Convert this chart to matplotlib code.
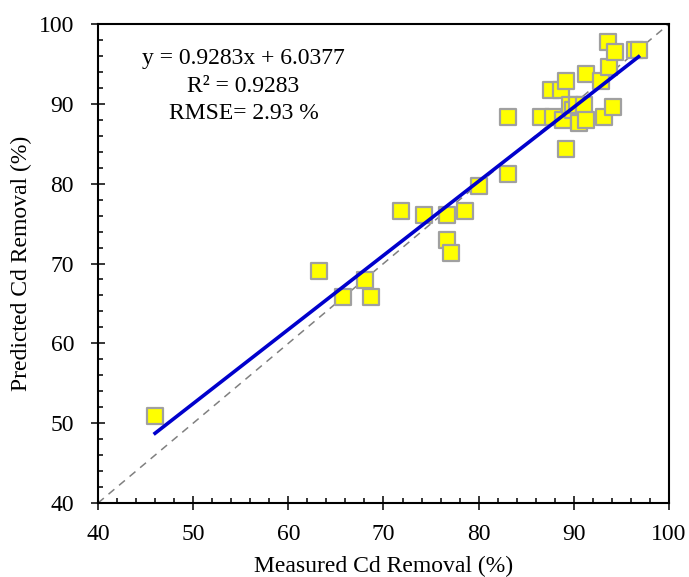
import numpy as np
import matplotlib.pyplot as plt
from matplotlib.ticker import MultipleLocator

plt.rcParams['font.family'] = ['Liberation Serif', 'DejaVu Serif']

measured = [46.0, 63.2, 65.7, 68.1, 68.7, 71.8, 74.3, 76.7, 76.7, 77.1, 78.6, 80.0,
            83.1, 83.1, 86.6, 87.6, 87.8, 88.7, 88.9, 89.2, 89.2, 89.6, 89.9, 90.3,
            90.5, 91.1, 91.3, 91.3, 92.9, 93.2, 93.6, 93.7, 94.1, 94.3, 96.4, 96.8]
predicted = [50.9, 69.0, 65.8, 67.9, 65.8, 76.6, 76.1, 76.1, 72.9, 71.3, 76.6, 79.7,
             81.2, 88.3, 88.3, 91.7, 88.3, 91.7, 88.0, 92.9, 84.4, 89.9, 89.2, 89.9,
             87.6, 89.9, 88.0, 93.7, 92.9, 88.3, 97.8, 94.6, 89.6, 96.5, 96.8, 96.8]

slope, intercept = 0.9283, 6.0377
r2 = 0.9283
rmse = 2.93

fig = plt.figure(figsize=(6.89, 5.77), dpi=100)
ax = fig.add_axes([0.1422, 0.1282, 0.8288, 0.8302])

ax.plot([40, 100], [40, 100], linestyle=(0, (5, 4)), color='gray', linewidth=1.1, zorder=1)
ax.scatter(measured, predicted, marker='s', s=130, facecolor='yellow',
           edgecolor='#a0a0a0', linewidth=1.6, zorder=2)

xfit = np.array([min(measured), max(measured)])
ax.plot(xfit, slope * xfit + intercept, color='#0000cc', linewidth=2.6, zorder=3)

ax.text(55.3, 97.0, f"y = {slope}x + {intercept}\nR² = {r2}\nRMSE= {rmse} %",
        ha='center', va='top', fontsize=17, linespacing=1.42)

ax.set_xlim(40, 100)
ax.set_ylim(40, 100)
ax.xaxis.set_major_locator(MultipleLocator(10))
ax.yaxis.set_major_locator(MultipleLocator(10))
ax.xaxis.set_minor_locator(MultipleLocator(2))
ax.yaxis.set_minor_locator(MultipleLocator(2))
ax.tick_params(which='major', direction='inout', length=9.5, width=1.1, labelsize=17)
ax.tick_params(which='minor', direction='in', length=3.8, width=1.1)
ax.tick_params(axis='x', which='major', pad=10.5)
ax.tick_params(axis='y', which='major', pad=12.5)
for sp in ax.spines.values():
    sp.set_linewidth(1.5)

ax.set_xlabel('Measured Cd Removal (%)', fontsize=17, labelpad=7.5)
ax.set_ylabel('Predicted Cd Removal (%)', fontsize=17, labelpad=5)

fig.savefig('out.png', dpi=100)
